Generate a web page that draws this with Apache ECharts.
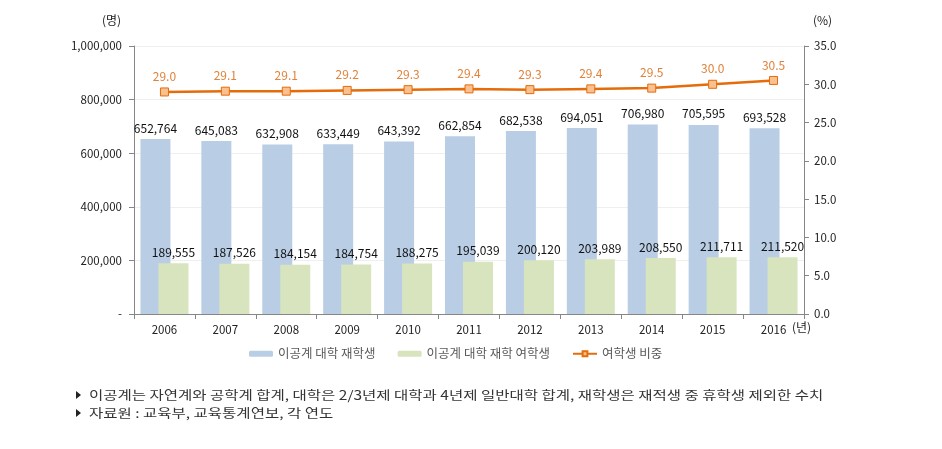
<!DOCTYPE html>
<html><head><meta charset="utf-8">
<script src="https://cdn.jsdelivr.net/npm/echarts@6/dist/echarts.min.js"></script>
<style>html,body{margin:0;padding:0;background:#fff}#c{width:942px;height:449px}</style>
</head><body><div id="c"></div>
<script>
const years = ['2006','2007','2008','2009','2010','2011','2012','2013','2014','2015','2016'];
const students = [652764,645083,632908,633449,643392,662854,682538,694051,706980,705595,693528];
const female = [189555,187526,184154,184754,188275,195039,200120,203989,208550,211711,211520];
const ratio = [29.0,29.1,29.1,29.2,29.3,29.4,29.3,29.4,29.5,30.0,30.5];
const seriesNames = ['이공계 대학 재학생','이공계 대학 재학 여학생','여학생 비중'];
const notes = ['이공계는 자연계와 공학계 합계, 대학은 2/3년제 대학과 4년제 일반대학 합계, 재학생은 재적생 중 휴학생 제외한 수치','자료원 : 교육부, 교육통계연보, 각 연도'];

const FONT = '"Noto Sans CJK KR", "Noto Sans", sans-serif';
const chart = echarts.init(document.getElementById('c'));
const fmt = v => v === 0 ? '-' : v.toLocaleString('en-US');
chart.setOption({
  animation: false,
  textStyle: {fontFamily: FONT},
  grid: {left: 134, right: 138, top: 46, bottom: 135},
  legend: {
    data: seriesNames, bottom: 84, left: 244, itemGap: 22,
    itemWidth: 24, itemHeight: 6,
    textStyle: {color: '#595959', fontSize: 12.5, fontFamily: FONT}
  },
  xAxis: {
    type: 'category', data: years,
    axisLine: {lineStyle: {color: '#868686'}},
    axisTick: {show: true, lineStyle: {color: '#868686'}},
    axisLabel: {color: '#222', fontSize: 11.5, margin: 10}
  },
  yAxis: [{
    type: 'value', min: 0, max: 1000000, interval: 200000,
    axisLine: {show: true, lineStyle: {color: '#868686'}},
    axisTick: {show: true, length: 5, lineStyle: {color: '#868686'}},
    axisLabel: {color: '#222', fontSize: 11.5, formatter: fmt, margin: 12},
    splitLine: {lineStyle: {color: '#efefef'}}
  }, {
    type: 'value', min: 0, max: 35, interval: 5,
    axisLine: {show: true, lineStyle: {color: '#868686'}},
    axisTick: {show: true, length: 5, lineStyle: {color: '#868686'}},
    axisLabel: {color: '#222', fontSize: 11.5, formatter: v => v.toFixed(1), margin: 10},
    splitLine: {show: false}
  }],
  series: [{
    name: seriesNames[0], type: 'bar', data: students, barWidth: 30, barGap: '-40%',
    itemStyle: {color: '#B9CDE5'},
    label: {show: true, position: 'top', distance: 5, color: '#111', fontSize: 12, formatter: p => fmt(p.value)}
  }, {
    name: seriesNames[1], type: 'bar', data: female, barWidth: 30,
    itemStyle: {color: '#D7E4BD'},
    label: {show: true, position: 'top', distance: 5, color: '#111', fontSize: 12, formatter: p => fmt(p.value)}
  }, {
    name: seriesNames[2], type: 'line', yAxisIndex: 1, data: ratio,
    symbol: 'rect', symbolSize: 8,
    lineStyle: {color: '#E46C0A', width: 2.5},
    itemStyle: {color: '#FAC090', borderColor: '#E46C0A', borderWidth: 1},
    label: {show: true, position: 'top', distance: 5, color: '#E0823A', fontSize: 12, formatter: p => p.value.toFixed(1)}
  }],
  graphic: [
    {type: 'text', left: 102, top: 14, style: {text: '(명)', fill: '#222', font: '12px ' + FONT}},
    {type: 'text', left: 813, top: 14, style: {text: '(%)', fill: '#222', font: '12px ' + FONT}},
    {type: 'text', left: 792, top: 321, style: {text: '(년)', fill: '#222', font: '12px ' + FONT}},
    {type: 'polygon', shape: {points: [[76, 391], [76, 399], [81, 395]]}, style: {fill: '#222'}},
    {type: 'polygon', shape: {points: [[76, 409], [76, 417], [81, 413]]}, style: {fill: '#222'}},
    {type: 'text', x: 89, y: 395, scaleX: 1.24, style: {text: notes[0], fill: '#333', font: '12.5px ' + FONT, verticalAlign: 'middle'}},
    {type: 'text', x: 89, y: 413, scaleX: 1.24, style: {text: notes[1], fill: '#333', font: '12.5px ' + FONT, verticalAlign: 'middle'}}
  ]
});
</script></body></html>
